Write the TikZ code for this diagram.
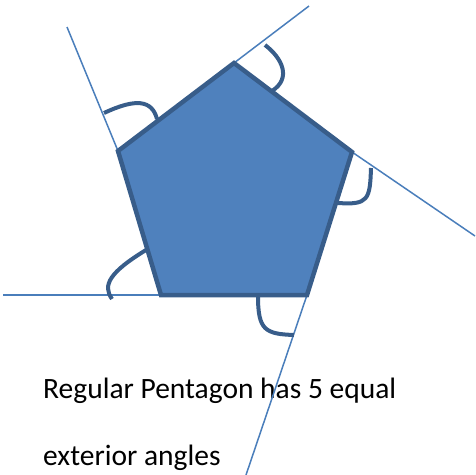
\documentclass[tikz,border=0pt]{standalone}
\usepackage{fontspec}
\setmainfont{Carlito}
\definecolor{pfill}{HTML}{4F81BD}
\definecolor{pedge}{HTML}{385D8A}
\definecolor{pline}{HTML}{4A7EBB}
\tikzset{
  extline/.style={draw=pline, line width=1.5pt},
  anglearc/.style={draw=pedge, line width=4pt},
  caption/.style={anchor=base west, inner sep=0pt, font=\fontsize{29.5}{34}\selectfont}
}
\begin{document}
\begin{tikzpicture}[x=1pt,y=-1pt]
\useasboundingbox (0,0) rectangle (475,475);
% vertices
\coordinate (T) at (234,63);
\coordinate (R) at (352,152);
\coordinate (BR) at (307,295);
\coordinate (BL) at (161,295);
\coordinate (L) at (118,151);
% extension ends
\coordinate (eT) at (309,6);
\coordinate (eR) at (475,236);
\coordinate (eBR) at (246,475);
\coordinate (eBL) at (3,295);
\coordinate (eL) at (67,27);
% text
\node[caption] (t1) at (43,398) {Regular Pentagon has 5 equal};
\node[caption] (t2) at (43,465) {exterior angles};
% extension lines
\draw[extline] (T) -- (eT);
\draw[extline] (R) -- (eR);
\draw[extline] (BR) -- (eBR);
\draw[extline] (BL) -- (eBL);
\draw[extline] (L) -- (eL);
% pentagon
\draw[fill=pfill, draw=pedge, line width=4.5pt, line join=miter] (T) -- (R) -- (BR) -- (BL) -- (L) -- cycle;
% angle arcs
\draw[anglearc] (104,113) .. controls (136,98) and (152,100) .. (157,119);
\draw[anglearc] (265,45) .. controls (282,58) and (292,78) .. (272,91);
\draw[anglearc] (371,168) .. controls (370,200) and (368,205) .. (338,203);
\draw[anglearc] (258,296) .. controls (258,330) and (265,334) .. (294,335);
\draw[anglearc] (146,250) .. controls (110,272) and (102,285) .. (112,299);
\end{tikzpicture}
\end{document}
